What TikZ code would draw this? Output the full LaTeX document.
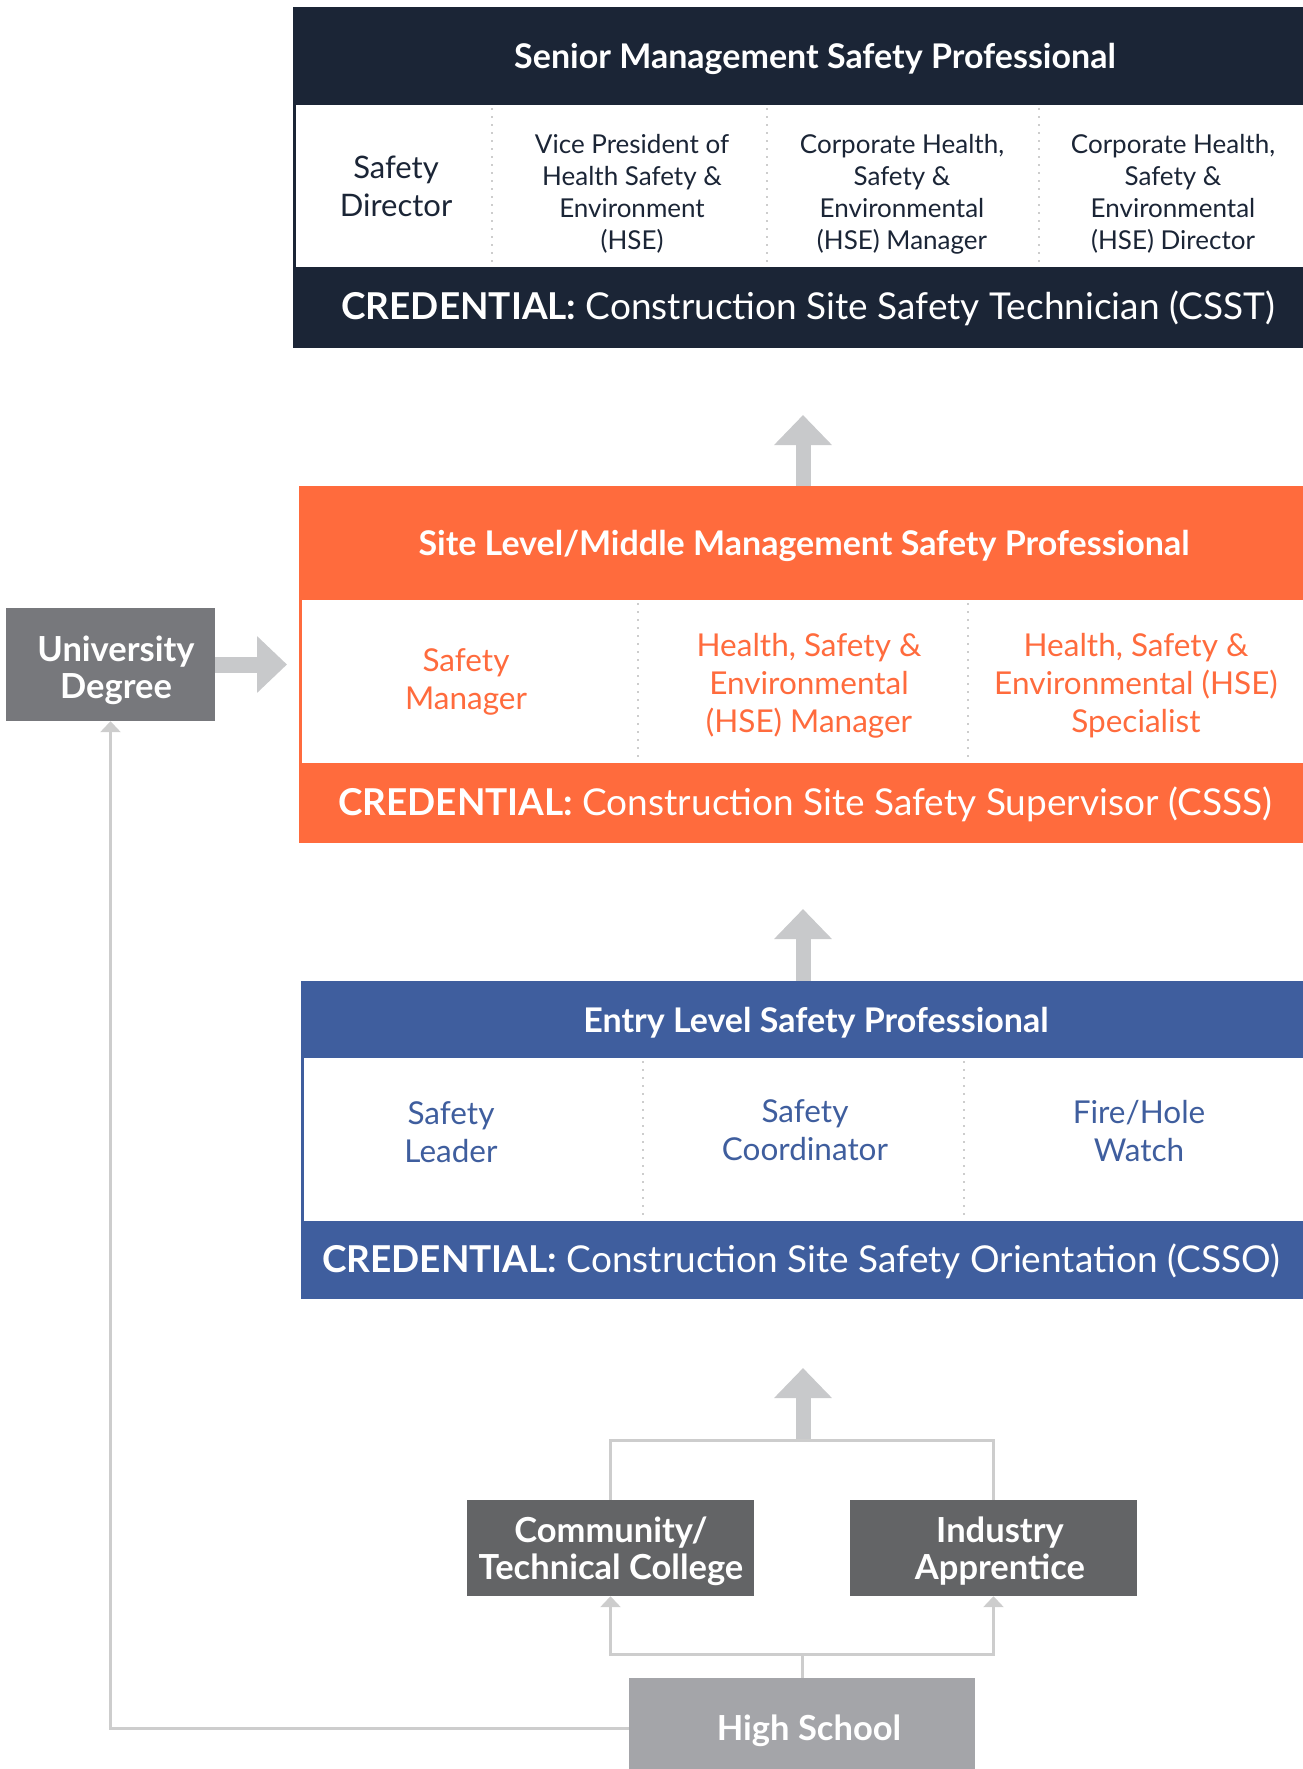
\documentclass[tikz,border=0pt]{standalone}
\usepackage{fontspec}
\setmainfont{Lato}
\usetikzlibrary{arrows.meta,positioning,calc}
\definecolor{navy}{HTML}{1B2536}
\definecolor{flame}{HTML}{FF6B3D}
\definecolor{steel}{HTML}{3F5E9E}
\definecolor{univgray}{HTML}{77787C}
\definecolor{darkgray}{HTML}{636466}
\definecolor{hsgray}{HTML}{A4A5A9}
\definecolor{arrowgray}{HTML}{C8C9CB}
\definecolor{linegray}{HTML}{CDCDCD}
\newcommand{\cred}[1]{{\bfseries CREDENTIAL:} #1}
\newcommand{\sz}[2]{\fontsize{#1}{#2}\selectfont}

\begin{document}
\begin{tikzpicture}[x=1pt,y=-1pt,
  frame/.style={anchor=north west,inner sep=0pt,draw=none},
  inner/.style={frame,fill=white},
  hdr/.style={text=white,font=\sz{34}{40}\bfseries},
  cell/.style={align=center,inner sep=0pt},
  credtxt/.style={text=white,font=\sz{37}{44}},
  gbox/.style={text=white,align=center,inner sep=0pt,font=\sz{34.5}{37}\bfseries},
  divider/.style={linegray,line width=1.2pt,dash pattern=on 2pt off 6pt},
  bigarrow/.style={draw=arrowgray,line width=15pt,-{Triangle[length=30pt,width=56pt]}},
  thinline/.style={draw=linegray,line width=3pt},
  thinarrow/.style={thinline,-{Triangle[length=11pt,width=20pt]}}]
\useasboundingbox (0,0) rectangle (1302,1769);

\node[frame,fill=navy,minimum width=1044,minimum height=341] (snr) at (293,7) {};
\node[inner,minimum width=1040,minimum height=162] (snrin) at (296,105) {};
\node[hdr] (snrhd) at (815,59) {Senior Management Safety Professional};
\node[cell,text=navy,font=\sz{31}{38}] (sdir) at (396,186) {Safety\\Director};
\node[cell,text=navy,font=\sz{26}{32}] (vp) at (632,194) {Vice President of\\Health Safety \&\\Environment\\(HSE)};
\node[cell,text=navy,font=\sz{26}{32}] (chm) at (902,194) {Corporate Health,\\Safety \&\\Environmental\\(HSE) Manager};
\node[cell,text=navy,font=\sz{26}{32}] (chd) at (1173,194) {Corporate Health,\\Safety \&\\Environmental\\(HSE) Director};
\node[credtxt] (csst) at (808,308) {\cred{Construction Site Safety Technician (CSST)}};
\foreach \x in {492,767,1039} \draw[divider] (\x,108) -- (\x,265);

\node[frame,fill=flame,minimum width=1010,minimum height=357] (site) at (299,486) {};
\node[inner,minimum width=1006,minimum height=163] (sitein) at (302,600) {};
\node[hdr] (sitehd) at (804,546) {Site Level/Middle Management Safety Professional};
\node[cell,text=flame,font=\sz{31.5}{38}] (smgr) at (466,682) {Safety\\Manager};
\node[cell,text=flame,font=\sz{31.5}{38}] (hsem) at (809,686) {Health, Safety \&\\Environmental\\(HSE) Manager};
\node[cell,text=flame,font=\sz{31.5}{38}] (hses) at (1136,686) {Health, Safety \&\\Environmental (HSE)\\Specialist};
\node[credtxt] (csss) at (805,804) {\cred{Construction Site Safety Supervisor (CSSS)}};
\foreach \x in {638,968} \draw[divider] (\x,603) -- (\x,760);

\node[frame,fill=steel,minimum width=1030,minimum height=318] (entry) at (301,981) {};
\node[inner,minimum width=1026,minimum height=163] (entryin) at (304,1058) {};
\node[hdr] (entryhd) at (816,1023) {Entry Level Safety Professional};
\node[cell,text=steel,font=\sz{31.5}{38}] (sldr) at (451,1132) {Safety\\Leader};
\node[cell,text=steel,font=\sz{31.5}{38}] (scrd) at (805,1130) {Safety\\Coordinator};
\node[cell,text=steel,font=\sz{31.5}{38}] (fire) at (1139,1131) {Fire/Hole\\Watch};
\node[credtxt] (csso) at (801,1261) {\cred{Construction Site Safety Orientation (CSSO)}};
\foreach \x in {643,964} \draw[divider] (\x,1061) -- (\x,1218);

\node[gbox,fill=univgray,minimum width=209,minimum height=113] (univ) at (110.5,664.5) {};
\node[gbox] (univtxt) at (116,670) {University\\Degree};
\node[gbox,fill=darkgray,minimum width=287,minimum height=96] (ctc) at (610.5,1548) {};
\node[gbox] (ctctxt) at (611,1551) {Community/\\Technical College};
\node[gbox,fill=darkgray,minimum width=287,minimum height=96] (ia) at (993.5,1548) {};
\node[gbox] (iatxt) at (1000,1551) {Industry\\Apprentice};
\node[gbox,fill=hsgray,minimum width=346,minimum height=100] (hs) at (802,1728) {};
\node[gbox] (hstxt) at (809,1731) {High School};

\coordinate (s2t) at (803,415);
\coordinate (e2s) at (803,909);
\coordinate (join) at (803,1440);
\coordinate (e2up) at (803,1368);
\coordinate (split) at (802,1654);
\coordinate (u2s) at (287,664.5);

\draw[bigarrow] (site.north -| s2t) -- (s2t);
\draw[bigarrow] (entry.north -| e2s) -- (e2s);
\draw[bigarrow] (join) -- (e2up);
\draw[bigarrow,line width=16pt,-{Triangle[length=30pt,width=55pt]}] (univ.east) -- (u2s);
\draw[thinline] (ctc.north) |- (join) -| (ia.north);
\draw[thinline] (hs.north) -- (split);
\draw[thinarrow] (split) -| (ctc.south);
\draw[thinarrow] (split) -| (ia.south);
\draw[thinarrow] (hs.west) -| (univ.south);
\end{tikzpicture}
\end{document}
